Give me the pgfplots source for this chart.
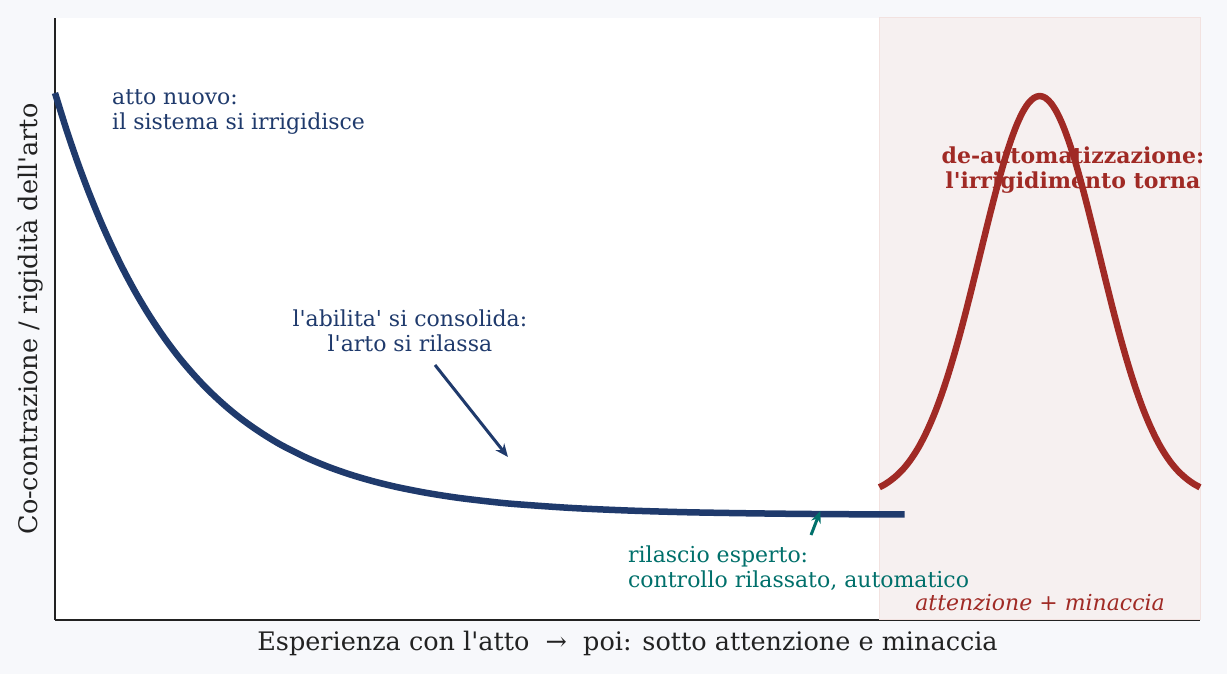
\documentclass[border=0pt]{standalone}
\usepackage{pgfplots}
\pgfplotsset{compat=1.18}
\usetikzlibrary{arrows.meta}
\usepackage{fontspec}
\setmainfont{DejaVu Serif}
\definecolor{bgc}{HTML}{F7F8FB}
\definecolor{curveblue}{HTML}{1F3A6C}
\definecolor{curvered}{HTML}{A02A25}
\definecolor{tealc}{HTML}{00706B}
\definecolor{shade}{HTML}{F6F0F0}
\definecolor{shadeedge}{HTML}{F2E2E0}
\definecolor{axc}{HTML}{222222}
\newcommand{\q}{\textquotesingle}

\begin{document}
\begin{tikzpicture}
\path[use as bounding box, fill=bgc] (0,0) rectangle (1227pt,674pt);
\begin{axis}[
    at={(55pt,54pt)}, anchor=south west,
    width=1145pt, height=602pt, scale only axis,
    xmin=0, xmax=10, ymin=0, ymax=6.02,
    axis x line*=bottom, axis y line*=left,
    axis line style={-, color=axc, line width=1.5pt},
    xtick=\empty, ytick=\empty,
    axis background/.style={fill=white},
    clip=false,
    xlabel={Esperienza con l\q atto \ → \ poi: sotto attenzione e minaccia},
    ylabel={Co-contrazione / rigidità dell\q arto},
    label style={font=\fontsize{25.5}{30}\selectfont, color=axc},
    xlabel style={at={(axis description cs:0.5,-0.0382)}, anchor=center},
    ylabel style={at={(axis description cs:-0.0218,0.5)}, anchor=center},
]
% shaded region
\addplot[fill=shade, draw=shadeedge, line width=1pt] coordinates {(7.2,0) (10,0) (10,6.02) (7.2,6.02)} -- cycle;

% learning curve
\addplot[curveblue, line width=6.5pt, smooth, line join=round] coordinates {
(0,5.270) (0.1,4.903) (0.2,4.568) (0.3,4.263) (0.4,3.983) (0.5,3.729)
(0.6,3.496) (0.7,3.283) (0.8,3.089) (0.9,2.912) (1.0,2.750) (1.1,2.602)
(1.2,2.468) (1.3,2.344) (1.4,2.232) (1.5,2.129) (1.6,2.035) (1.7,1.950)
(1.8,1.872) (1.9,1.800) (2.0,1.735) (2.2,1.621) (2.4,1.526) (2.6,1.447)
(2.8,1.381) (3.0,1.326) (3.25,1.270) (3.5,1.225) (3.75,1.190) (4.0,1.161)
(4.5,1.121) (5.0,1.095) (5.5,1.078) (6.0,1.068) (6.5,1.061) (7.0,1.057) (7.42,1.055)};

% de-automatization bump
\addplot[curvered, line width=6.5pt, smooth, line join=round] coordinates {
(7.20,1.327) (7.25,1.358) (7.30,1.397) (7.35,1.444) (7.40,1.500) (7.45,1.568)
(7.50,1.649) (7.55,1.743) (7.60,1.853) (7.65,1.978) (7.70,2.119) (7.75,2.277)
(7.80,2.451) (7.85,2.641) (7.90,2.844) (7.95,3.060) (8.00,3.286) (8.05,3.518)
(8.10,3.752) (8.15,3.984) (8.20,4.210) (8.25,4.425) (8.30,4.624) (8.35,4.801)
(8.40,4.953) (8.45,5.076) (8.50,5.166) (8.55,5.221) (8.60,5.240)
(8.65,5.221) (8.70,5.166) (8.75,5.076) (8.80,4.953) (8.85,4.801) (8.90,4.624)
(8.95,4.425) (9.00,4.210) (9.05,3.984) (9.10,3.752) (9.15,3.518) (9.20,3.286)
(9.25,3.060) (9.30,2.844) (9.35,2.641) (9.40,2.451) (9.45,2.277) (9.50,2.119)
(9.55,1.978) (9.60,1.853) (9.65,1.743) (9.70,1.649) (9.75,1.568) (9.80,1.500)
(9.85,1.444) (9.90,1.397) (9.95,1.358) (10.00,1.327)};

% annotations
\node[anchor=north west, align=left, text=curveblue, font=\fontsize{22}{25.5}\selectfont, inner sep=0pt]
  at (axis cs:0.498,5.31) {atto nuovo:\\il sistema si irrigidisce};
\node[align=center, text=curveblue, font=\fontsize{22}{25.5}\selectfont, inner sep=0pt]
  at (axis cs:3.10,2.89) {l\q abilita\q{} si consolida:\\l\q arto si rilassa};
\draw[-{Stealth[length=13pt,width=11pt]}, curveblue, line width=3pt] (axis cs:3.319,2.55) -- (axis cs:3.956,1.63);
\node[anchor=north west, align=left, text=tealc, font=\fontsize{22}{25.5}\selectfont, inner sep=0pt]
  at (axis cs:5.004,0.745) {rilascio esperto:\\controllo rilassato, automatico};
\draw[-{Stealth[length=12pt,width=10pt]}, tealc, line width=3pt] (axis cs:6.603,0.85) -- (axis cs:6.684,1.09);
\node[align=center, text=curvered, font=\fontsize{22}{25.5}\selectfont\bfseries, inner sep=0pt]
  at (axis cs:8.89,4.50) {de-automatizzazione:\\l\q irrigidimento torna};
\node[text=curvered, font=\fontsize{22}{25}\selectfont\itshape, inner sep=0pt]
  at (axis cs:8.603,0.17) {attenzione + minaccia};
\end{axis}
\end{tikzpicture}
\end{document}
